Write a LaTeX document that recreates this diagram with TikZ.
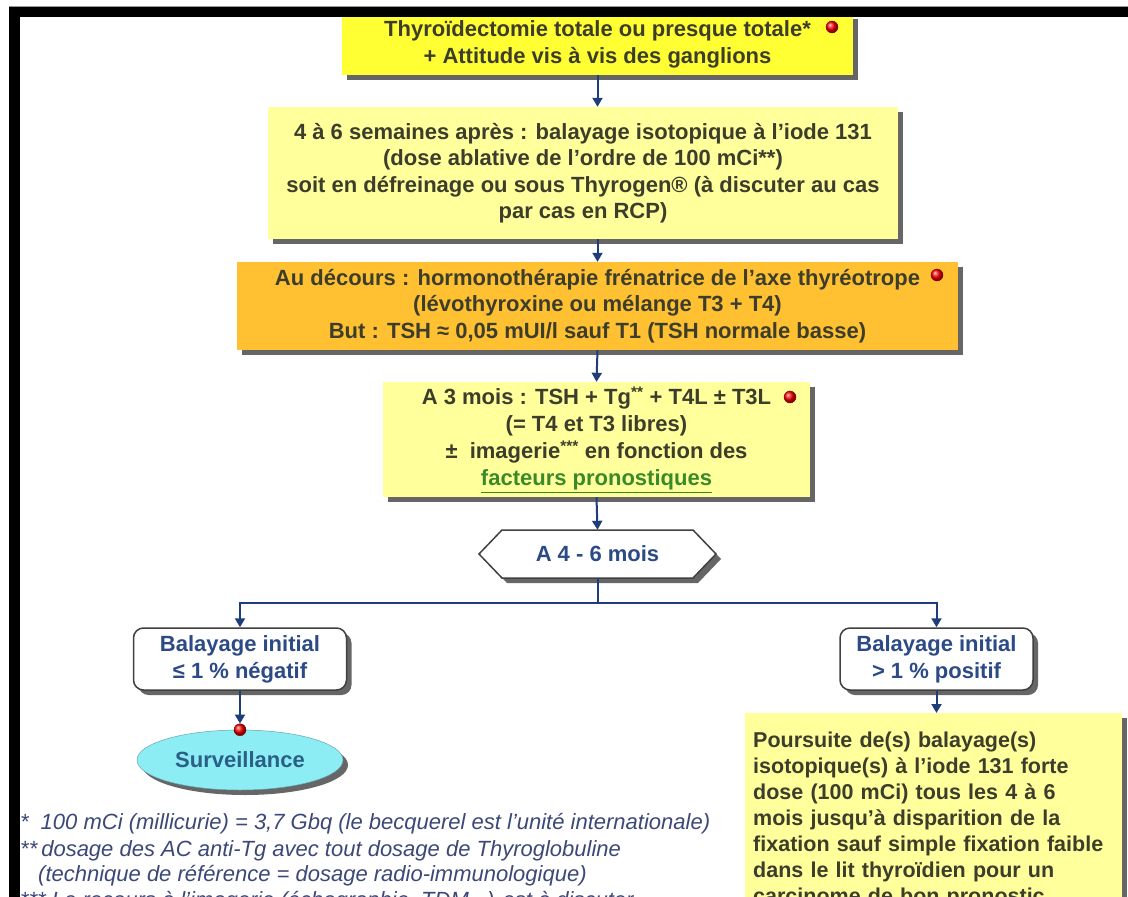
\documentclass[tikz,border=0pt]{standalone}
\usepackage{fontspec}
\setmainfont{Liberation Sans}
\usetikzlibrary{shadows,arrows.meta,shapes.geometric,calc}
\definecolor{txt}{HTML}{3D3D2B}
\definecolor{bluetxt}{HTML}{2C4A86}
\definecolor{arrowc}{HTML}{1F3D7A}
\definecolor{yel}{HTML}{FFFF33}
\definecolor{paley}{HTML}{FFFF9C}
\definecolor{orng}{HTML}{FFC131}
\definecolor{cyanf}{HTML}{8DEDF5}
\definecolor{tealtxt}{HTML}{2A5F86}
\definecolor{greentxt}{HTML}{3A8A2A}
\definecolor{foot}{HTML}{3C4878}
\begin{document}
\begin{tikzpicture}[x=1pt,y=-1pt,
  shad/.style={drop shadow={shadow xshift=5pt,shadow yshift=-5pt,fill=black!70,opacity=0.85}},
  box/.style={shad,rectangle,inner sep=0pt,align=center,text=txt,
    font=\bfseries\fontsize{22}{26.5}\selectfont},
  rbox/.style={shad,rectangle,rounded corners=10pt,draw=black!75,line width=1.5pt,fill=white,
    inner sep=0pt,align=center,text=bluetxt,font=\bfseries\fontsize{22}{27}\selectfont},
  reddot/.style={circle,minimum size=12pt,inner sep=0pt,ball color=red,draw=red!50!black,line width=0.4pt},
  arr/.style={draw=arrowc,line width=2pt,-{Triangle[width=10pt,length=9pt]}},
  lin/.style={draw=arrowc,line width=2pt},
  footn/.style={anchor=west,inner sep=0pt,text=foot,font=\itshape\fontsize{22}{26}\selectfont}
]
\useasboundingbox (0,0) rectangle (1128,897);
\clip (0,0) rectangle (1128,897);
\fill[white] (0,0) rectangle (1128,897);

% boxes
\node[box,fill=yel,minimum width=511pt,minimum height=61pt,font=\bfseries\fontsize{22}{27}\selectfont] (top) at (597.5,44.5)
  {Thyroïdectomie totale ou presque totale*\\+ Attitude vis à vis des ganglions};
\node[reddot] (d1) at (832,27) {};

\node[box,fill=paley,minimum width=630pt,minimum height=132pt] (b2) at (583,173)
  {4 à 6 semaines après : balayage isotopique à l'iode 131\\
   (dose ablative de l'ordre de 100 mCi**)\\
   soit en défreinage ou sous Thyrogen® (à discuter au cas\\
   par cas en RCP)};

\node[box,fill=orng,minimum width=721pt,minimum height=88pt] (b3) at (597.5,306)
  {Au décours : hormonothérapie frénatrice de l'axe thyréotrope\\
   (lévothyroxine ou mélange T3 + T4)\\
   But : TSH ≈ 0,05 mUI/l sauf T1 (TSH normale basse)};
\node[reddot] (d2) at (937,275) {};

\node[box,fill=paley,minimum width=427pt,minimum height=115pt,font=\bfseries\fontsize{22}{27}\selectfont] (b4) at (596.5,439.5)
  {A 3 mois : TSH + Tg\textsuperscript{**} + T4L ± T3L\\
   (= T4 et T3 libres)\\
   ± \ imagerie\textsuperscript{***} en fonction des\\
   \textcolor{greentxt}{\underline{facteurs pronostiques}}};
\node[reddot] (d3) at (790,397) {};

% hexagon
\filldraw[shad,fill=white,draw=black!75,line width=1.5pt]
  (479,554) -- (502,530) -- (693,530) -- (716,554) -- (693,578) -- (502,578) -- cycle;
\node[inner sep=0pt,minimum width=237pt,minimum height=48pt,text=bluetxt,
  font=\bfseries\fontsize{22}{26}\selectfont] (hex) at (597.5,554) {A 4 - 6 mois};

% branch boxes
\node[rbox,minimum width=213pt,minimum height=62pt] (left) at (240,659)
  {Balayage initial\\ ≤ 1 \% négatif};
\node[rbox,minimum width=193pt,minimum height=62pt] (right) at (936.5,659)
  {Balayage initial\\ > 1 \% positif};

\node[shad,ellipse,fill=cyanf,draw=cyanf!70!black,line width=0.5pt,minimum width=206pt,minimum height=60pt,
  inner sep=0pt,text=tealtxt,font=\bfseries\fontsize{22}{26}\selectfont] (ell) at (240,760) {Surveillance};
\node[reddot] (d4) at (ell.north) {};

\node[box,fill=paley,anchor=north west,align=left,
  text width=361pt,inner xsep=8pt,inner ysep=16pt,font=\bfseries\fontsize{21.5}{26}\selectfont] (rb) at (745,713)
  {\begin{tabular}{@{}l@{}}
   Poursuite de(s) balayage(s)\\
   isotopique(s) à l'iode 131 forte\\
   dose (100 mCi) tous les 4 à 6\\
   mois jusqu'à disparition de la\\
   fixation sauf simple fixation faible\\
   dans le lit thyroïdien pour un\\
   carcinome de bon pronostic
   \end{tabular}};

% connectors
\draw[arr] (top.south) -- (top.south |- b2.north);
\draw[arr] (top.south |- b2.south) -- (b3.north);
\draw[arr] (b3.south) -- (b4.north);
\draw[arr] (b4.south) -- (hex.north);
\draw[lin] (hex.south) -- ($(hex.south)+(0,25)$) coordinate (br);
\draw[arr] (br) -| (left.north);
\draw[arr] (br) -| (right.north);
\draw[arr] (left.south) -- (d4.north);
\draw[arr] (right.south) -- (right.south |- rb.north);

% footnotes
\node[footn] (f1) at (20,824) {*\hspace{12pt}100 mCi (millicurie) = 3,7 Gbq (le becquerel est l'unité internationale)};
\node[footn] (f2) at (20,851) {**\hspace{4pt}dosage des AC anti-Tg avec tout dosage de Thyroglobuline};
\node[footn] (f3) at (38,876) {(technique de référence = dosage radio-immunologique)};
\node[footn] (f4) at (20,902) {*** Le recours à l'imagerie (échographie, TDM...) est à discuter};

% frame
\draw[black!40,line width=1pt] (9,6) -- (1128,6);
\fill[black] (9,7) rectangle (1128,17);
\fill[black] (9,7) rectangle (20,897);
\end{tikzpicture}
\end{document}
